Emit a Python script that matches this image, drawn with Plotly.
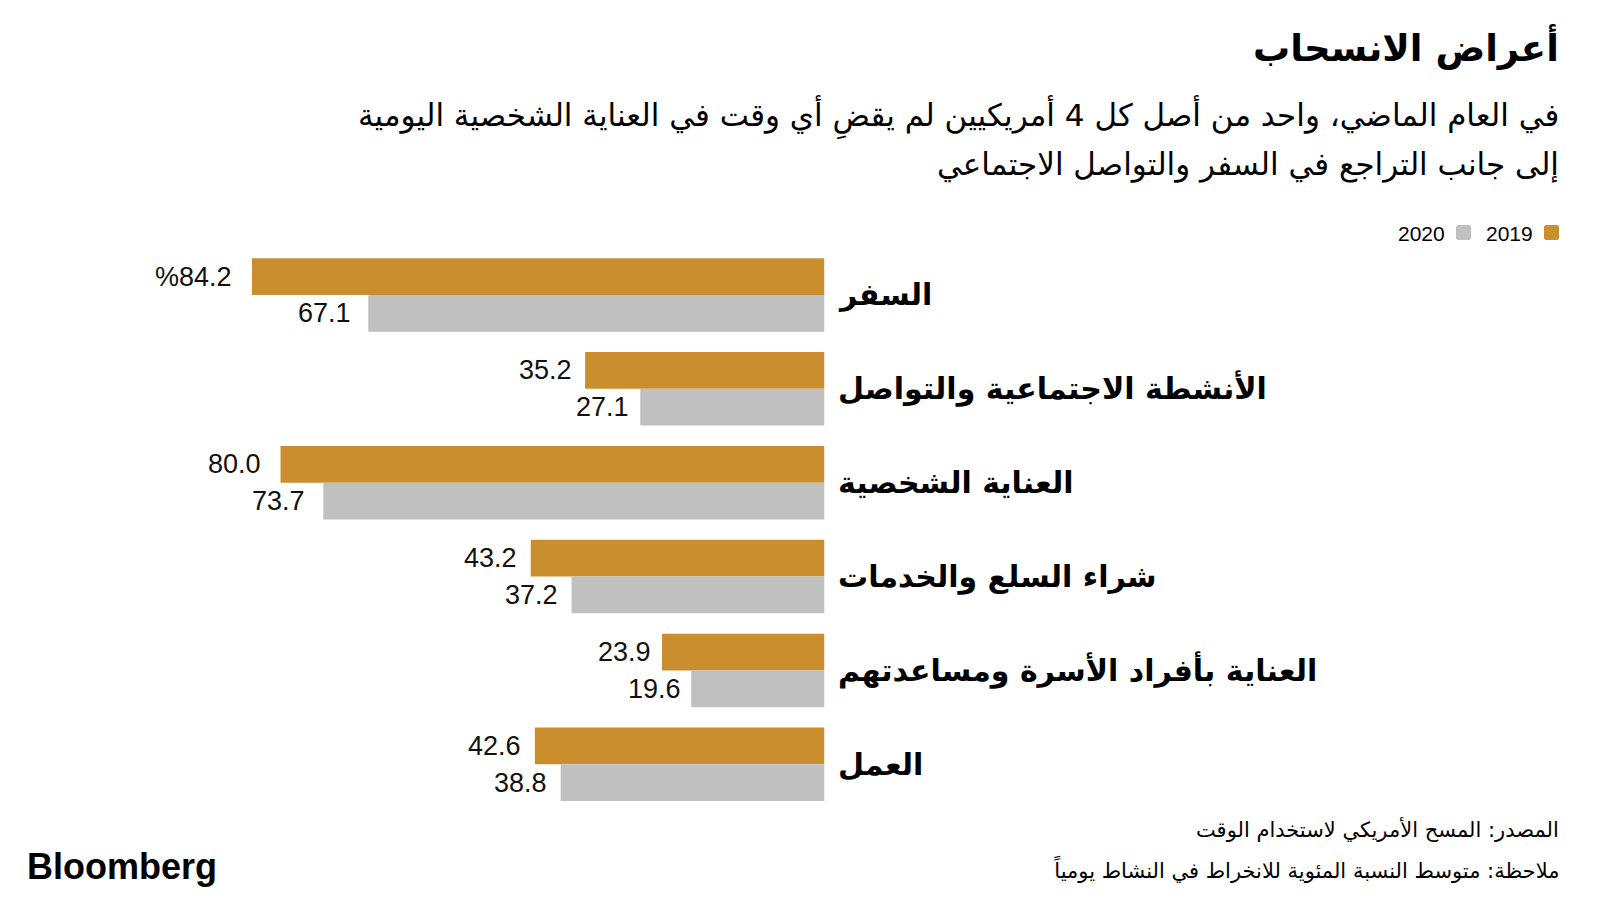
import plotly.graph_objects as go

categories = ["السفر", "الأنشطة الاجتماعية والتواصل", "العناية الشخصية",
              "شراء السلع والخدمات", "العناية بأفراد الأسرة ومساعدتهم", "العمل"]
values_2019 = [84.2, 35.2, 80.0, 43.2, 23.9, 42.6]
values_2020 = [67.1, 27.1, 73.7, 37.2, 19.6, 38.8]
series_names = ["2019", "2020"]

GOLD = "#CB8E2E"
GRAY = "#C0C0C0"
AR = "DejaVu Sans"
NUM = "Liberation Sans, Arial, sans-serif"

W, H = 1600, 900
OFF = 8  # page body margin offset
def px(x):
    return (x - OFF) / W
def py(y):
    return 1 - (y - OFF) / H

fig = go.Figure()
fig.add_trace(go.Bar(y=categories, x=values_2019, orientation="h", name=series_names[0],
                     marker=dict(color=GOLD, line=dict(width=0)), showlegend=False, hoverinfo="skip"))
fig.add_trace(go.Bar(y=categories, x=values_2020, orientation="h", name=series_names[1],
                     marker=dict(color=GRAY, line=dict(width=0)), showlegend=False, hoverinfo="skip"))

right_px = 824.5
scale = 6.8
top_px, bot_px = 248.0, 811.2

fig.update_layout(
    width=W, height=H,
    margin=dict(l=0, r=0, t=0, b=0),
    paper_bgcolor="white", plot_bgcolor="white",
    barmode="group", bargap=0.217, bargroupgap=0,
    xaxis=dict(domain=[0, px(right_px)], range=[(right_px - OFF) / scale, 0], visible=False, fixedrange=True),
    yaxis=dict(domain=[py(bot_px), py(top_px)], type="category", categoryarray=categories,
               range=[len(categories) - 0.5, -0.5], visible=False, fixedrange=True),
)

def label_shift(v):
    return -(5.5 + 0.15 * v)

ann = []
bar_half = 18.4
for i, cat in enumerate(categories):
    t19 = ("%" if i == 0 else "") + f"{values_2019[i]:.1f}"
    ann.append(dict(x=values_2019[i], y=i, xref="x", yref="y", text=t19, showarrow=False,
                    xanchor="right", yanchor="middle", xshift=label_shift(values_2019[i]), yshift=bar_half,
                    font=dict(family=NUM, size=27, color="#111")))
    ann.append(dict(x=values_2020[i], y=i, xref="x", yref="y", text=f"{values_2020[i]:.1f}", showarrow=False,
                    xanchor="right", yanchor="middle", xshift=label_shift(values_2020[i]), yshift=-bar_half,
                    font=dict(family=NUM, size=27, color="#111")))
    ann.append(dict(x=px(836), y=i, xref="paper", yref="y", text=f"<b>{cat}</b>", showarrow=False,
                    xanchor="left", yanchor="middle",
                    font=dict(family=AR, size=30, color="#000")))

RX = 1561
# title & subtitle
ann.append(dict(x=px(RX), y=py(47), xref="paper", yref="paper", text="<b>أعراض الانسحاب</b>",
                showarrow=False, xanchor="right", yanchor="middle",
                font=dict(family=AR, size=37, color="#000")))
ann.append(dict(x=px(RX), y=py(117), xref="paper", yref="paper",
                text="في العام الماضي، واحد من أصل كل 4 أمريكيين لم يقضِ أي وقت في العناية الشخصية اليومية",
                showarrow=False, xanchor="right", yanchor="middle",
                font=dict(family=AR, size=31, color="#000")))
ann.append(dict(x=px(RX), y=py(164), xref="paper", yref="paper",
                text="إلى جانب التراجع في السفر والتواصل الاجتماعي",
                showarrow=False, xanchor="right", yanchor="middle",
                font=dict(family=AR, size=31, color="#000")))

# legend
ann.append(dict(x=px(1535), y=py(233), xref="paper", yref="paper", text=series_names[0],
                showarrow=False, xanchor="right", yanchor="middle",
                font=dict(family=NUM, size=21, color="#000")))
ann.append(dict(x=px(1447), y=py(233), xref="paper", yref="paper", text=series_names[1],
                showarrow=False, xanchor="right", yanchor="middle",
                font=dict(family=NUM, size=21, color="#000")))

# footer
ann.append(dict(x=px(RX), y=py(829), xref="paper", yref="paper",
                text="المصدر: المسح الأمريكي لاستخدام الوقت",
                showarrow=False, xanchor="right", yanchor="middle",
                font=dict(family=AR, size=21, color="#000")))
ann.append(dict(x=px(RX), y=py(869), xref="paper", yref="paper",
                text="ملاحظة: متوسط النسبة المئوية للانخراط في النشاط يومياً",
                showarrow=False, xanchor="right", yanchor="middle",
                font=dict(family=AR, size=21, color="#000")))
ann.append(dict(x=px(25), y=py(866), xref="paper", yref="paper", text="<b>Bloomberg</b>",
                showarrow=False, xanchor="left", yanchor="middle",
                font=dict(family=NUM, size=36, color="#000")))

def rounded_square(x0, y0, x1, y1, r=2.5):
    X = lambda v: px(v)
    Y = lambda v: py(v)
    return (f"M {X(x0 + r)} {Y(y0)} L {X(x1 - r)} {Y(y0)} Q {X(x1)} {Y(y0)} {X(x1)} {Y(y0 + r)} "
            f"L {X(x1)} {Y(y1 - r)} Q {X(x1)} {Y(y1)} {X(x1 - r)} {Y(y1)} "
            f"L {X(x0 + r)} {Y(y1)} Q {X(x0)} {Y(y1)} {X(x0)} {Y(y1 - r)} "
            f"L {X(x0)} {Y(y0 + r)} Q {X(x0)} {Y(y0)} {X(x0 + r)} {Y(y0)} Z")

shapes = [
    dict(type="path", xref="paper", yref="paper", path=rounded_square(1544, 225, 1559, 240),
         fillcolor=GOLD, line=dict(width=0)),
    dict(type="path", xref="paper", yref="paper", path=rounded_square(1456, 225, 1471, 240),
         fillcolor=GRAY, line=dict(width=0)),
]

fig.update_layout(annotations=ann, shapes=shapes)
fig.write_html("out.html")
